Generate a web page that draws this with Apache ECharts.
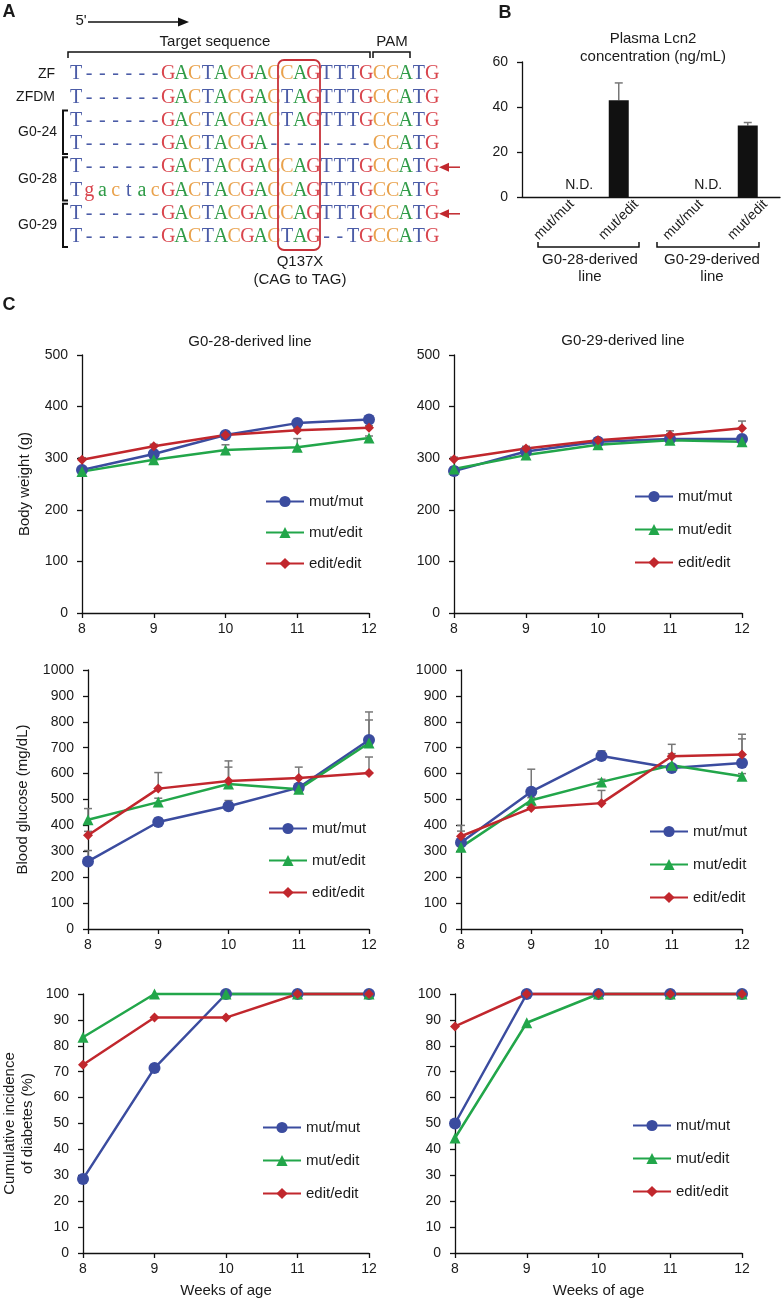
<!DOCTYPE html>
<html>
<head>
<meta charset="utf-8">
<script src="https://cdn.jsdelivr.net/npm/echarts@6/dist/echarts.min.js"></script>
<style>
  html, body { margin: 0; padding: 0; background: #fff; }
  #main { width: 783px; height: 1302px; }
</style>
</head>
<body>
<div id="main"></div>
<script>
const FONT = '"Liberation Sans", Arial, sans-serif';

// ---- panel A : alignment ----
const seqNames = ['ZF', 'ZFDM'];
const seqRows = [
  'T------GACTACGACCAGTTTGCCATG',
  'T------GACTACGACTAGTTTGCCATG',
  'T------GACTACGACTAGTTTGCCATG',
  'T------GACTACGA--------CCATG',
  'T------GACTACGACCAGTTTGCCATG',
  'TgactacGACTACGACCAGTTTGCCATG',
  'T------GACTACGACCAGTTTGCCATG',
  'T------GACTACGACTAG--TGCCATG'
];
const seqGroups = [
  { name: 'G0-24', rows: [2, 3] },
  { name: 'G0-28', rows: [4, 5] },
  { name: 'G0-29', rows: [6, 7] }
];
const arrowRows = [4, 6];

// ---- panel B : plasma Lcn2 ----
const lcn2Cats = ['mut/mut', 'mut/edit', 'mut/mut', 'mut/edit'];
const lcn2Mean = [0, 43, 0, 31.8];
const lcn2Err = [0, 7.7, 0, 1.3];
const lcn2Groups = ['G0-28-derived\nline', 'G0-29-derived\nline'];

// ---- panel C ----
const weeks = [8, 9, 10, 11, 12];
const genotypes = ['mut/mut', 'mut/edit', 'edit/edit'];

const bw28MutMut = [277, 308, 345, 368, 375];
const bw28MutEdit = [274, 297, 316, 321, 339];
const bw28EditEdit = [297, 323, 345, 354, 359];
const bw28MutMutErr = [4, 5, 4, 4, 4];
const bw28MutEditErr = [3, 4, 10, 17, 4];
const bw28EditEditErr = [4, 4, 4, 4, 4];

const bw29MutMut = [275, 313, 332, 337, 337];
const bw29MutEdit = [279, 306, 326, 335, 332];
const bw29EditEdit = [298, 319, 335, 345, 358];
const bw29MutMutErr = [4, 4, 4, 10, 4];
const bw29MutEditErr = [4, 4, 4, 4, 4];
const bw29EditEditErr = [4, 4, 4, 8, 14];

const bg28MutMut = [261, 413, 474, 546, 730];
const bg28MutEdit = [422, 490, 560, 540, 718];
const bg28EditEdit = [362, 542, 571, 583, 602];
const bg28MutMutErr = [42, 15, 22, 10, 108];
const bg28MutEditErr = [43, 15, 65, 10, 89];
const bg28EditEditErr = [15, 62, 78, 42, 62];

const bg29MutMut = [334, 530, 668, 622, 641];
const bg29MutEdit = [316, 497, 568, 632, 590];
const bg29EditEdit = [358, 467, 486, 667, 674];
const bg29MutMutErr = [66, 87, 20, 10, 93];
const bg29MutEditErr = [10, 10, 10, 45, 10];
const bg29EditEditErr = [20, 10, 49, 46, 78];

const inc28MutMut = [28.6, 71.4, 100, 100, 100];
const inc28MutEdit = [83.3, 100, 100, 100, 100];
const inc28EditEdit = [72.7, 90.9, 90.9, 100, 100];
const inc29MutMut = [50, 100, 100, 100, 100];
const inc29MutEdit = [44.4, 88.9, 100, 100, 100];
const inc29EditEdit = [87.5, 100, 100, 100, 100];

const colors = ['#3b4c9f', '#22a64a', '#c1272d'];
const symbols = ['circle', 'triangle', 'diamond'];
const symbolSizes = [12, 11, 10];

// one entry per sub chart of C
const panels = [
  { grid: { left: 82, top: 355, width: 287, height: 258 }, max: 500, interval: 100, name: 'Body weight (g)', nameGap: 48,
    vals: [bw28MutMut, bw28MutEdit, bw28EditEdit], errs: [bw28MutMutErr, bw28MutEditErr, bw28EditEditErr], legend: [260, 489, 16] },
  { grid: { left: 454, top: 355, width: 288, height: 258 }, max: 500, interval: 100, name: '',
    vals: [bw29MutMut, bw29MutEdit, bw29EditEdit], errs: [bw29MutMutErr, bw29MutEditErr, bw29EditEditErr], legend: [629, 484, 18] },
  { grid: { left: 88, top: 670, width: 281, height: 259 }, max: 1000, interval: 100, name: 'Blood glucose (mg/dL)', nameGap: 56,
    vals: [bg28MutMut, bg28MutEdit, bg28EditEdit], errs: [bg28MutMutErr, bg28MutEditErr, bg28EditEditErr], legend: [263, 816, 17] },
  { grid: { left: 461, top: 670, width: 281, height: 259 }, max: 1000, interval: 100, name: '',
    vals: [bg29MutMut, bg29MutEdit, bg29EditEdit], errs: [bg29MutMutErr, bg29MutEditErr, bg29EditEditErr], legend: [644, 819, 18] },
  { grid: { left: 82, top: 994, width: 287, height: 259 }, max: 100, interval: 10, name: 'Cumulative incidence\nof diabetes (%)', nameGap: 46,
    vals: [inc28MutMut, inc28MutEdit, inc28EditEdit], errs: null, legend: [257, 1115, 18], xName: true },
  { grid: { left: 455, top: 994, width: 287, height: 259 }, max: 100, interval: 10, name: '',
    vals: [inc29MutMut, inc29MutEdit, inc29EditEdit], errs: null, legend: [627, 1113, 18], xName: true }
];

const axisLineStyle = { color: '#111', width: 1.3 };
const labelStyle = { fontSize: 14, color: '#1a1a1a', fontFamily: FONT };

function errBar(gi, xs, vals, errs, isCat) {
  const data = [];
  xs.forEach((x, k) => { if (errs[k] > 0) data.push([isCat ? k : x, vals[k], errs[k]]); });
  return {
    type: 'custom', xAxisIndex: gi, yAxisIndex: gi, z: 1, silent: true, clip: false,
    data: data,
    renderItem: function (params, api) {
      const p0 = api.coord([api.value(0), api.value(1)]);
      const p1 = api.coord([api.value(0), api.value(1) + api.value(2)]);
      const st = { stroke: '#777', lineWidth: 1.5 };
      return {
        type: 'group',
        children: [
          { type: 'line', shape: { x1: p0[0], y1: p0[1], x2: p1[0], y2: p1[1] }, style: st },
          { type: 'line', shape: { x1: p1[0] - 4, y1: p1[1], x2: p1[0] + 4, y2: p1[1] }, style: st }
        ]
      };
    }
  };
}

const grids = [{ left: 522, top: 62, width: 258, height: 135 }];
const xAxes = [{
  type: 'category', gridIndex: 0, data: lcn2Cats,
  axisLine: { lineStyle: axisLineStyle }, axisTick: { show: false },
  axisLabel: Object.assign({ rotate: 45, align: 'center', verticalAlign: 'middle', margin: 23 }, labelStyle)
}];
const yAxes = [{
  type: 'value', gridIndex: 0, min: 0, max: 60, interval: 20,
  axisLine: { show: true, lineStyle: axisLineStyle }, axisTick: { show: true, length: 5, lineStyle: axisLineStyle },
  splitLine: { show: false }, axisLabel: Object.assign({ margin: 14 }, labelStyle)
}];
const series = [
  {
    type: 'bar', xAxisIndex: 0, yAxisIndex: 0, barWidth: 20, itemStyle: { color: '#111' }, z: 2,
    data: lcn2Mean.map(function (v) {
      return v === 0 ? { value: 0, label: { show: true, formatter: 'N.D.', position: 'top', offset: [25, 0], fontSize: 14, color: '#1a1a1a', fontFamily: FONT } } : v;
    })
  },
  errBar(0, lcn2Cats, lcn2Mean, lcn2Err, true)
];
const legends = [];

panels.forEach(function (p, n) {
  const gi = n + 1;
  grids.push(p.grid);
  xAxes.push({
    type: 'value', gridIndex: gi, min: 8, max: 12, interval: 1,
    axisLine: { onZero: false, lineStyle: axisLineStyle }, axisTick: { show: true, length: 5, lineStyle: axisLineStyle },
    splitLine: { show: false }, axisLabel: Object.assign({ margin: 9 }, labelStyle),
    name: p.xName ? 'Weeks of age' : '', nameLocation: 'middle', nameGap: 30,
    nameTextStyle: { fontSize: 15, color: '#1a1a1a', fontFamily: FONT }
  });
  yAxes.push({
    type: 'value', gridIndex: gi, min: 0, max: p.max, interval: p.interval,
    axisLine: { show: true, lineStyle: axisLineStyle }, axisTick: { show: true, length: 5, lineStyle: axisLineStyle },
    splitLine: { show: false },
    axisLabel: Object.assign({ margin: 14, formatter: function (v) { return String(v); } }, labelStyle),
    name: p.name, nameLocation: 'middle', nameRotate: 90, nameGap: p.nameGap || 50,
    nameTextStyle: { fontSize: 15, color: '#1a1a1a', fontFamily: FONT, lineHeight: 18 }
  });
  if (p.errs) {
    p.vals.forEach(function (v, k) { series.push(errBar(gi, weeks, v, p.errs[k], false)); });
  }
  p.vals.forEach(function (v, k) {
    series.push({
      type: 'line', name: genotypes[k], xAxisIndex: gi, yAxisIndex: gi, clip: false, z: 3,
      data: weeks.map(function (w, i) { return [w, v[i]]; }),
      symbol: symbols[k], symbolSize: symbolSizes[k], color: colors[k],
      itemStyle: { color: colors[k] }, lineStyle: { width: 2.5, color: colors[k] }
    });
  });
  legends.push({
    left: p.legend[0], top: p.legend[1], orient: 'vertical', itemWidth: 38, itemHeight: 14, itemGap: p.legend[2],
    data: genotypes, selectedMode: false,
    textStyle: { fontSize: 15, color: '#1a1a1a', fontFamily: FONT }
  });
});

// ---- drawn text / brackets of the figure ----
const graphics = [];
function txt(x, y, s, opts) {
  graphics.push({
    type: 'text', x: x, y: y, silent: true,
    style: Object.assign({ text: s, font: '14px ' + FONT, fill: '#1a1a1a', align: 'center', verticalAlign: 'middle' }, opts || {})
  });
}
function poly(points, width, color) {
  graphics.push({ type: 'polyline', silent: true, shape: { points: points }, style: { stroke: color || '#111', lineWidth: width || 1.5, fill: null } });
}

// panel letters
txt(9, 12, 'A', { font: 'bold 18px ' + FONT });
txt(505, 13, 'B', { font: 'bold 18px ' + FONT });
txt(9, 305, 'C', { font: 'bold 18px ' + FONT });

// panel A
txt(81, 21, "5'", { font: '15px ' + FONT });
poly([[88, 22], [180, 22]], 1.5);
graphics.push({ type: 'polygon', silent: true, shape: { points: [[178, 17.5], [189, 22], [178, 26.5]] }, style: { fill: '#111' } });
txt(215, 42, 'Target sequence', { font: '15px ' + FONT });
txt(392, 42, 'PAM', { font: '15px ' + FONT });
poly([[68, 58], [68, 52], [370, 52], [370, 58]], 1.5);
poly([[373, 58], [373, 52], [410, 52], [410, 58]], 1.5);

const baseColors = { A: '#2f9b47', C: '#e9a24c', G: '#d9454d', T: '#4b5ca7', '-': '#4b5ca7' };
const rowY = seqRows.map(function (r, i) { return 74 + i * 23.3; });
seqRows.forEach(function (row, r) {
  row.split('').forEach(function (ch, i) {
    txt(76 + i * 13.19, rowY[r], ch, { font: '20px "Liberation Serif", "DejaVu Serif", serif', fill: baseColors[ch.toUpperCase()] });
  });
});
seqNames.forEach(function (nm, r) { txt(55, rowY[r], nm, { align: 'right', font: '14px ' + FONT }); });
seqGroups.forEach(function (g) {
  const y0 = rowY[g.rows[0]], y1 = rowY[g.rows[1]];
  txt(57, (y0 + y1) / 2, g.name, { align: 'right', font: '14px ' + FONT });
  poly([[68, y0 - 10], [63, y0 - 10], [63, y1 + 10], [68, y1 + 10]], 2);
});
arrowRows.forEach(function (r) {
  const y = rowY[r];
  graphics.push({ type: 'polygon', silent: true, shape: { points: [[439, y], [449, y - 4.5], [449, y + 4.5]] }, style: { fill: '#c1272d' } });
  poly([[447, y], [460, y]], 1.5, '#c1272d');
});
graphics.push({ type: 'rect', silent: true, shape: { x: 278, y: 60, width: 42, height: 190, r: 6 }, style: { stroke: '#c8323a', lineWidth: 1.8, fill: null } });
txt(300, 262, 'Q137X', { font: '15px ' + FONT });
txt(300, 280, '(CAG to TAG)', { font: '15px ' + FONT });

// panel B
txt(653, 39, 'Plasma Lcn2', { font: '15px ' + FONT });
txt(653, 57, 'concentration (ng/mL)', { font: '15px ' + FONT });
poly([[538, 242], [538, 247], [639, 247], [639, 242]], 1.5);
poly([[657, 242], [657, 247], [759, 247], [759, 242]], 1.5);
txt(590, 268, lcn2Groups[0], { font: '15px ' + FONT, lineHeight: 17 });
txt(712, 268, lcn2Groups[1], { font: '15px ' + FONT, lineHeight: 17 });

// panel C titles
txt(250, 342, 'G0-28-derived line', { font: '15px ' + FONT });
txt(623, 341, 'G0-29-derived line', { font: '15px ' + FONT });

const option = {
  animation: false,
  backgroundColor: '#fff',
  textStyle: { fontFamily: FONT },
  grid: grids,
  xAxis: xAxes,
  yAxis: yAxes,
  legend: legends,
  series: series,
  graphic: graphics
};

const chart = echarts.init(document.getElementById('main'));
chart.setOption(option);
</script>
</body>
</html>
